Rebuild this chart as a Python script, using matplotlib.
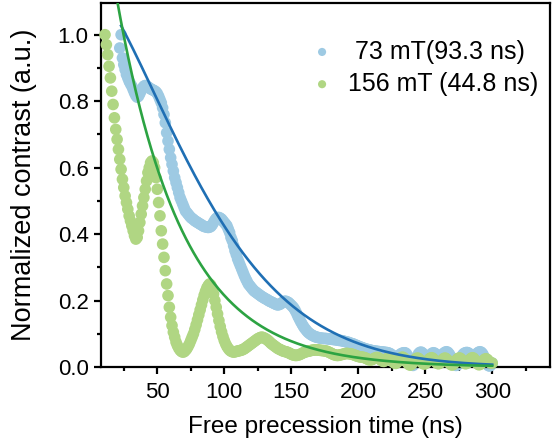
import numpy as np
import matplotlib
matplotlib.use("Agg")
import matplotlib.pyplot as plt
from matplotlib.ticker import MultipleLocator

plt.rcParams['font.family'] = ['Liberation Sans', 'DejaVu Sans']

# 156 mT series, 1 ns steps from 11 ns
t_156 = np.arange(11, 301)
c_156 = [
    1.00, 0.97, 0.94, 0.905, 0.87, 0.83, 0.79, 0.75, 0.715, 0.685,
    0.655, 0.625, 0.595, 0.565, 0.54, 0.515, 0.495, 0.475, 0.455, 0.44,
    0.425, 0.41, 0.395, 0.385, 0.39, 0.41, 0.435, 0.46, 0.485, 0.51,
    0.535, 0.56, 0.585, 0.60, 0.615, 0.62, 0.615, 0.60, 0.57, 0.535,
    0.495, 0.455, 0.41, 0.37, 0.33, 0.29, 0.25, 0.215, 0.18, 0.15,
    0.125, 0.105, 0.09, 0.075, 0.065, 0.057, 0.051, 0.047, 0.045, 0.046,
    0.05, 0.055, 0.062, 0.07, 0.08, 0.09, 0.10, 0.113, 0.127, 0.142,
    0.157, 0.172, 0.187, 0.202, 0.216, 0.228, 0.238, 0.245, 0.25, 0.246,
    0.236, 0.22, 0.20, 0.18, 0.16, 0.14, 0.122, 0.106, 0.092, 0.08,
    0.07, 0.062, 0.056, 0.051, 0.048, 0.046, 0.045, 0.046, 0.047, 0.048,
    0.049, 0.05, 0.051, 0.053, 0.055, 0.058, 0.061, 0.064, 0.067, 0.07,
    0.073, 0.076, 0.079, 0.082, 0.085, 0.087, 0.089, 0.09, 0.089, 0.087,
    0.085, 0.082, 0.079, 0.075, 0.071, 0.068, 0.065, 0.062, 0.059, 0.056,
    0.054, 0.052, 0.05, 0.048, 0.047, 0.046, 0.045, 0.043, 0.041, 0.039,
    0.037, 0.036, 0.035, 0.035, 0.036, 0.037, 0.039, 0.041, 0.043, 0.045,
    0.046, 0.047, 0.048, 0.049, 0.05, 0.051, 0.051, 0.052, 0.052, 0.051,
    0.051, 0.05, 0.05, 0.049, 0.049, 0.048, 0.047, 0.045, 0.043, 0.041,
    0.039, 0.037, 0.036, 0.035, 0.035, 0.036, 0.037, 0.038, 0.039, 0.04,
    0.041, 0.041, 0.04, 0.04, 0.039, 0.038, 0.036, 0.035, 0.033, 0.032,
    0.031, 0.03, 0.03, 0.029, 0.028, 0.026, 0.024, 0.022, 0.021, 0.022,
    0.024, 0.026, 0.028, 0.029, 0.028, 0.025, 0.021, 0.018, 0.017, 0.019,
    0.023, 0.027, 0.029, 0.027, 0.022, 0.016, 0.012, 0.011, 0.014, 0.019,
    0.024, 0.028, 0.03, 0.028, 0.023, 0.017, 0.011, 0.007, 0.006, 0.009,
    0.014, 0.02, 0.025, 0.027, 0.026, 0.022, 0.017, 0.012, 0.009, 0.01,
    0.014, 0.019, 0.024, 0.027, 0.028, 0.025, 0.02, 0.015, 0.011, 0.01,
    0.012, 0.017, 0.022, 0.026, 0.027, 0.024, 0.019, 0.013, 0.008, 0.006,
    0.008, 0.013, 0.019, 0.024, 0.027, 0.027, 0.023, 0.018, 0.013, 0.01,
    0.011, 0.015, 0.02, 0.025, 0.028, 0.027, 0.022, 0.016, 0.01, 0.007,
    0.008, 0.012, 0.017, 0.022, 0.025, 0.024, 0.02, 0.015, 0.012, 0.012,
]

# 73 mT series, 1 ns steps from 22 ns
t_73 = np.arange(22, 301)
c_73 = [
    0.96, 1.00, 0.93, 0.91, 0.895, 0.88, 0.87, 0.86, 0.852,
    0.845, 0.835, 0.825, 0.817, 0.812, 0.815, 0.823, 0.832, 0.84, 0.845,
    0.847, 0.846, 0.843, 0.84, 0.837, 0.835, 0.833, 0.831, 0.828, 0.823,
    0.815, 0.805, 0.795, 0.78, 0.76, 0.735, 0.705, 0.68, 0.655, 0.63,
    0.61, 0.59, 0.57, 0.555, 0.54, 0.525, 0.51, 0.50, 0.49, 0.48,
    0.47, 0.465, 0.46, 0.455, 0.45, 0.447, 0.444, 0.44, 0.438, 0.435,
    0.433, 0.43, 0.428, 0.425, 0.423, 0.422, 0.421, 0.42, 0.421, 0.423,
    0.428, 0.435, 0.442, 0.447, 0.45, 0.45, 0.448, 0.445, 0.44, 0.435,
    0.43, 0.425, 0.415, 0.405, 0.39, 0.38, 0.365, 0.35, 0.338, 0.325,
    0.315, 0.305, 0.295, 0.285, 0.275, 0.266, 0.258, 0.25, 0.245, 0.24,
    0.235, 0.23, 0.227, 0.224, 0.221, 0.218, 0.215, 0.212, 0.21, 0.207,
    0.205, 0.203, 0.2, 0.198, 0.196, 0.194, 0.192, 0.19, 0.188, 0.187,
    0.188, 0.19, 0.193, 0.196, 0.198, 0.198, 0.196, 0.194, 0.19, 0.186,
    0.182, 0.177, 0.17, 0.162, 0.153, 0.145, 0.137, 0.13, 0.123, 0.117,
    0.112, 0.107, 0.103, 0.1, 0.097, 0.095, 0.093, 0.091, 0.09, 0.089,
    0.088, 0.087, 0.087, 0.086, 0.086, 0.086, 0.085, 0.085, 0.084, 0.084,
    0.083, 0.083, 0.082, 0.082, 0.081, 0.08, 0.08, 0.079, 0.078, 0.077,
    0.076, 0.075, 0.074, 0.072, 0.071, 0.07, 0.068, 0.066, 0.065, 0.063,
    0.061, 0.06, 0.058, 0.057, 0.055, 0.054, 0.053, 0.052, 0.051, 0.05,
    0.049, 0.048, 0.048, 0.047, 0.047, 0.046, 0.046, 0.045, 0.045, 0.044,
    0.044, 0.043, 0.042, 0.04, 0.037, 0.034, 0.031, 0.03, 0.031, 0.034,
    0.037, 0.04, 0.042, 0.043, 0.043, 0.04, 0.033, 0.022, 0.012, 0.006,
    0.005, 0.01, 0.02, 0.032, 0.04, 0.044, 0.045, 0.042, 0.036, 0.03,
    0.027, 0.028, 0.032, 0.037, 0.041, 0.043, 0.042, 0.038, 0.033, 0.03,
    0.03, 0.033, 0.038, 0.042, 0.045, 0.046, 0.044, 0.039, 0.032, 0.024,
    0.016, 0.009, 0.005, 0.006, 0.012, 0.021, 0.03, 0.037, 0.041, 0.043,
    0.044, 0.043, 0.04, 0.036, 0.033, 0.032, 0.034, 0.038, 0.042, 0.045,
    0.046, 0.044, 0.039, 0.031, 0.022, 0.012, 0.005, 0.003, 0.006, 0.012,
]

# fitted decay curves (parameters)
fit_73 = dict(amp=1.15, tau=100.2, beta=1.48, start=23)
fit_156 = dict(amp=1.66, tau=49.0, beta=1.0, start=14)

label_73 = ' 73 mT(93.3 ns)'
label_156 = '156 mT (44.8 ns)'

fig = plt.figure(figsize=(5.52, 4.46), dpi=100)
ax = fig.add_axes([0.183, 0.177, 0.813, 0.816])

ax.scatter(t_73, c_73, s=70, color='#9ecae3', edgecolors='none', clip_on=False, zorder=2, label=label_73)
ax.scatter(t_156, c_156, s=70, color='#b0d683', edgecolors='none', clip_on=False, zorder=3, label=label_156)

for fit, col in [(fit_73, '#1f6fb4'), (fit_156, '#2ca342')]:
    tt = np.linspace(fit['start'], 300, 400)
    yy = fit['amp'] * np.exp(-(tt / fit['tau']) ** fit['beta'])
    ax.plot(tt, yy, color=col, lw=1.9, zorder=4)

ax.set_xlim(8, 343)
ax.set_ylim(0, 1.095)
ax.xaxis.set_major_locator(MultipleLocator(50))
ax.xaxis.set_minor_locator(MultipleLocator(25))
ax.yaxis.set_major_locator(MultipleLocator(0.2))
ax.yaxis.set_minor_locator(MultipleLocator(0.1))
ax.yaxis.set_major_formatter(matplotlib.ticker.FormatStrFormatter('%.1f'))

for sp in ax.spines.values():
    sp.set_linewidth(1.6)
ax.tick_params(which='major', direction='out', length=5, width=1.6, labelsize=16)
ax.tick_params(axis='x', which='major', pad=6)
ax.tick_params(axis='y', which='major', pad=4)
ax.tick_params(which='minor', direction='out', length=3, width=1.6)

ax.set_xlabel('Free precession time (ns)', fontsize=17.5, labelpad=9)
ax.set_ylabel('Normalized contrast (a.u.)', fontsize=19.5, labelpad=15)

ax.legend(loc='upper right', bbox_to_anchor=(0.975, 0.9), frameon=False, fontsize=18,
          markerscale=0.7, handlelength=0.6, handletextpad=0.75, labelspacing=0.33,
          borderpad=0, borderaxespad=0)

fig.savefig('out.png', dpi=100)
